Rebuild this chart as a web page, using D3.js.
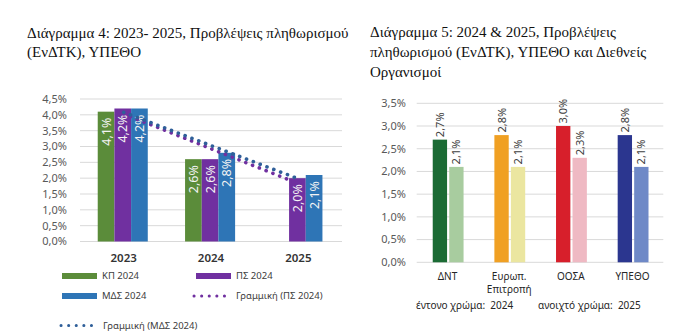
<!DOCTYPE html>
<html><head><meta charset="utf-8">
<script src="https://cdn.jsdelivr.net/npm/d3@7"></script>
<style>
html,body{margin:0;padding:0;background:#fff;}
svg{display:block;}
.serif{font-family:"Liberation Serif","Times New Roman",serif;}
.sans{font-family:"Noto Sans","Open Sans",sans-serif;}
</style></head>
<body>
<svg id="c" width="700" height="336"></svg>
<script>
// ---- Data: chart 4 ----
const years = ["2023", "2024", "2025"];
const kp2024 = [4.1, 2.6, null];
const ps2024 = [4.2, 2.6, 2.0];
const mds2024 = [4.2, 2.8, 2.1];
const psTrend = [4.03, 2.93, 1.83];
const mdsTrend = [4.08, 3.03, 1.98];
const leftTicks = [0, 0.5, 1, 1.5, 2, 2.5, 3, 3.5, 4, 4.5];
const leftSeriesNames = ["ΚΠ 2024", "ΠΣ 2024", "ΜΔΣ 2024"];
const leftTrendNames = ["Γραμμική (ΠΣ 2024)", "Γραμμική (ΜΔΣ 2024)"];
const title4 = ["Διάγραμμα 4: 2023- 2025, Προβλέψεις πληθωρισμού", "(ΕνΔΤΚ), ΥΠΕΘΟ"];

// ---- Data: chart 5 ----
const orgs = ["ΔΝΤ", "Ευρωπ. Επιτροπή", "ΟΟΣΑ", "ΥΠΕΘΟ"];
const f2024 = [2.7, 2.8, 3.0, 2.8];
const f2025 = [2.1, 2.1, 2.3, 2.1];
const rightTicks = [0, 0.5, 1, 1.5, 2, 2.5, 3, 3.5];
const title5 = ["Διάγραμμα 5: 2024 & 2025, Προβλέψεις", "πληθωρισμού (ΕνΔΤΚ), ΥΠΕΘΟ και Διεθνείς", "Οργανισμοί"];
const footer5 = ["έντονο χρώμα:  2024", "ανοιχτό χρώμα:  2025"];

const fmt = v => v.toFixed(1).replace(".", ",") + "%";
const svg = d3.select("#c");

// ================= Chart 4 =================
{
  const g = svg.append("g");
  const y = d3.scaleLinear().domain([0, 4.5]).range([241.5, 99]);
  const x = d3.scaleBand().domain(years).range([80, 342]);
  const xs = d3.scaleBand().domain([0, 1, 2]).range([x.bandwidth() * 0.203, x.bandwidth() * 0.776]);
  const colors = ["#5b8c3a", "#7030a0", "#2e75b6"];
  const series = [kp2024, ps2024, mds2024];

  g.append("text").attr("class", "serif").attr("font-size", 15).attr("fill", "#111")
    .selectAll("tspan").data(title4).join("tspan")
    .attr("x", 27).attr("y", (d, i) => 38 + i * 19).text(d => d);

  g.selectAll(".gl").data(leftTicks).join("line")
    .attr("x1", 80).attr("x2", 342).attr("y1", d => y(d)).attr("y2", d => y(d))
    .attr("stroke", "#d9d9d9").attr("stroke-width", 1);
  g.selectAll(".yl").data(leftTicks).join("text").attr("class", "sans")
    .attr("x", 67).attr("y", d => y(d)).attr("dy", "0.35em").attr("text-anchor", "end")
    .attr("font-size", 11).attr("fill", "#595959").text(d => fmt(d));

  series.forEach((s, si) => {
    const data = years.map((yr, i) => ({yr, v: s[i]})).filter(d => d.v != null);
    g.selectAll(".b" + si).data(data).join("rect")
      .attr("x", d => x(d.yr) + xs(si)).attr("width", xs.bandwidth())
      .attr("y", d => y(d.v)).attr("height", d => y(0) - y(d.v))
      .attr("fill", colors[si]);
    g.selectAll(".t" + si).data(data).join("text").attr("class", "sans")
      .attr("transform", d => `translate(${x(d.yr) + xs(si) + xs.bandwidth() / 2},${y(d.v) + 6}) rotate(-90)`)
      .attr("text-anchor", "end").attr("dy", "0.36em").attr("font-size", 12.5)
      .attr("fill", "#f4f4f4").text(d => fmt(d.v));
  });

  const line = d3.line().x((d, i) => x(years[i]) + x.bandwidth() / 2).y(d => y(d));
  [[psTrend, "#7030a0"], [mdsTrend, "#2f5f99"]].forEach(([t, c]) => {
    g.append("path").attr("d", line(t)).attr("fill", "none").attr("stroke", c)
      .attr("stroke-width", 3.6).attr("stroke-linecap", "round").attr("stroke-dasharray", "0.1 7.2");
  });

  g.selectAll(".xl").data(years).join("text").attr("class", "sans")
    .attr("x", d => x(d) + x.bandwidth() / 2).attr("y", 258).attr("dy", "0.35em")
    .attr("text-anchor", "middle").attr("font-size", 11.5).attr("font-weight", 600)
    .attr("fill", "#333").text(d => d);

  const leg = [
    {type: "bar", c: colors[0], name: leftSeriesNames[0], x: 62, y: 276},
    {type: "bar", c: colors[1], name: leftSeriesNames[1], x: 196, y: 276},
    {type: "bar", c: colors[2], name: leftSeriesNames[2], x: 62, y: 296},
    {type: "dot", c: "#7030a0", name: leftTrendNames[0], x: 194, y: 296},
    {type: "dot", c: "#2f5f99", name: leftTrendNames[1], x: 61, y: 325.5}
  ];
  leg.forEach(l => {
    if (l.type === "bar") {
      g.append("rect").attr("x", l.x).attr("y", l.y - 3).attr("width", 35).attr("height", 6).attr("fill", l.c);
    } else {
      g.append("line").attr("x1", l.x).attr("x2", l.x + 38).attr("y1", l.y).attr("y2", l.y)
        .attr("stroke", l.c).attr("stroke-width", 3).attr("stroke-linecap", "round")
        .attr("stroke-dasharray", "0.1 7.5");
    }
    g.append("text").attr("class", "sans").attr("x", l.x + (l.type === "bar" ? 40 : 42)).attr("y", l.y)
      .attr("dy", "0.35em").attr("font-size", 9.5).attr("fill", "#404040").text(l.name);
  });
}

// ================= Chart 5 =================
{
  const g = svg.append("g");
  const y = d3.scaleLinear().domain([0, 3.5]).range([262.3, 103.3]);
  const x = d3.scaleBand().domain(orgs).range([416.7, 663.3]);
  const xs = d3.scaleBand().domain([0, 1]).range([x.bandwidth() * 0.26, x.bandwidth() * 0.76]).paddingInner(0.13);
  const dark = ["#1b6b34", "#f0a023", "#d71f2b", "#2b368f"];
  const light = ["#a8cc9f", "#ebe6a0", "#efb9c3", "#6f89c7"];

  g.append("text").attr("class", "serif").attr("font-size", 15).attr("fill", "#111")
    .selectAll("tspan").data(title5).join("tspan")
    .attr("x", 370).attr("y", (d, i) => 37 + i * 20)
    .text(d => d);

  g.selectAll(".gl").data(rightTicks).join("line")
    .attr("x1", 416.7).attr("x2", 663.3).attr("y1", d => y(d)).attr("y2", d => y(d))
    .attr("stroke", "#d9d9d9");
  g.selectAll(".yl").data(rightTicks).join("text").attr("class", "sans")
    .attr("x", 406).attr("y", d => y(d)).attr("dy", "0.35em").attr("text-anchor", "end")
    .attr("font-size", 11).attr("fill", "#595959").text(d => fmt(d));

  [[f2024, dark], [f2025, light]].forEach(([s, cols], si) => {
    const data = orgs.map((o, i) => ({o, v: s[i], c: cols[i]}));
    g.selectAll(".b" + si).data(data).join("rect")
      .attr("x", d => x(d.o) + xs(si)).attr("width", xs.bandwidth())
      .attr("y", d => y(d.v)).attr("height", d => y(0) - y(d.v)).attr("fill", d => d.c);
    g.selectAll(".t" + si).data(data).join("text").attr("class", "sans")
      .attr("transform", d => `translate(${x(d.o) + xs(si) + xs.bandwidth() / 2},${y(d.v) - 2.5}) rotate(-90)`)
      .attr("text-anchor", "start").attr("dy", "0.36em").attr("font-size", 11)
      .attr("fill", "#404040").text(d => fmt(d.v));
  });

  // category labels: one text element per line
  const catLines = [];
  orgs.forEach(o => o.split(" ").forEach((p, i) => catLines.push({o, p, i})));
  g.selectAll(".xl").data(catLines).join("text").attr("class", "sans")
    .attr("text-anchor", "middle").attr("font-size", 10).attr("fill", "#262626")
    .attr("x", d => x(d.o) + x.bandwidth() / 2).attr("y", d => 279.5 + d.i * 13.5).text(d => d.p);

  g.selectAll(".ft").data(footer5).join("text").attr("class", "sans")
    .attr("x", (d, i) => [416, 538][i]).attr("y", 308.5).attr("font-size", 10)
    .attr("fill", "#262626").attr("xml:space", "preserve").style("white-space", "pre").text(d => d);
}
</script>
</body></html>
